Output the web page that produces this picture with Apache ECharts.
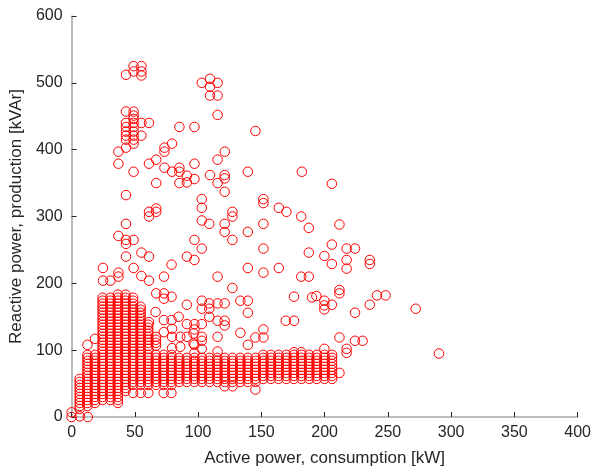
<!DOCTYPE html>
<html><head><meta charset="utf-8">
<script src="https://cdn.jsdelivr.net/npm/echarts@6/dist/echarts.min.js"></script>
<style>html,body{margin:0;padding:0;background:#fff}#c{width:594px;height:472px}</style>
</head><body><div id="c"></div>
<script>
// quantized row levels (kVAr) observed in the dense blocks
const lowRows = [12,16.5,21,25.5,30,34.5,39,43.5];
const bandRows = [48,52.5,57,61.5,66,70.5,75,79.5,84,88.5,93];
const upperRows = [97.5,102,106.5,111,115.5,120,124.5,129,133.5,138,142.5,147,151.5,156,160.5,165,169.5,174,178.5,183,187.5,192,196.5];
// column positions (kW) of the dense grid
const colX = [6.4,12.5,18.5,24.5,30.6,36.6,42.6,48.6,54.6,60.6,66.7,72.8,78.9,85,91.1,97.1,103,109,115.2,121.1,127.2,133.3,139.3,145.4,151.5,157.5,163.6,169.7,175.7,181.7,187.8,193.8,199.9,205.9];
const midBand = bandRows.slice(1,10);
const rightBand = bandRows.slice(2);
const colRows = [
  lowRows.concat(bandRows.slice(0,3)),
  lowRows.slice(1).concat(bandRows),
  lowRows.slice(2).concat(bandRows),
  lowRows.slice(3).concat(bandRows, upperRows.slice(0,19)),
  lowRows.slice(3).concat(bandRows, upperRows.slice(0,19)),
  lowRows.slice(2).concat(bandRows, upperRows.slice(0,20)),
  lowRows.slice(6).concat(bandRows, upperRows.slice(0,20)),
  bandRows.concat(upperRows.slice(0,19)),
  bandRows.concat(upperRows.slice(0,16)),
  bandRows.concat(upperRows.slice(1,10)),
  bandRows.concat(upperRows.slice(2,6)),
  bandRows, bandRows,
  midBand, midBand, midBand, midBand, midBand, midBand, midBand, midBand, midBand, midBand, midBand,
  rightBand, rightBand, rightBand, rightBand, rightBand, rightBand, rightBand, rightBand, rightBand, rightBand
];
// individual scattered points
const ptX = [43,49,55.2,49,55.2,55.2,
  43,49,49,49,43,43,43,43,43,43,49,49,49,49,49,49,55.2,61.2,55.2,37,37,43,
  85.2,97.1,79.4,73.4,73.4,66.9,61.2,73.4,79.4,85.2,85.2,91.1,97.1,97.1,85.2,91.1,66.9,49,
  102.9,109.4,115.4,109.4,109.4,115.4,115.4,145.3,121.1,115.4,109.4,121,121,115.4,121,139.3,182,102.9,151.6,
  102.9,151.6,163.8,169.8,181.5,187.5,127.1,127.1,102.9,108.8,121,121,139.3,151.6,97.1,102.9,127.1,91.1,97.1,151.6,187.5,139.3,151.6,163.8,115.4,181.5,187.5,127.1,175.8,102.9,133.4,139.3,91.1,108.8,115.4,121,190,
  205.7,211.7,205.7,199.8,217.4,224,205.7,217.4,217.4,235.7,235.7,211.7,211.7,193.5,241.4,248.2,
  199.8,199.8,199.8,205.7,235.7,224,272,211.7,224,230,217.4,217.4,290.4,199.8,211.7,
  102.9,108.8,108.8,115.4,121,121,139.3,169.3,175.8,91.1,97.1,102.9,97.1,133.4,151.6,151.6,145.3,91.1,102.9,102.9,115.4,139.3,97.1,102.9,97.1,115.4,121,127.2,145.3,175.8,181.5,
  61.2,66.9,61.2,66.9,43,37,43,49,43,55.2,61.2,43,24.8,49,79,73,24.8,30.7,37,37,55.2,61.2,66.9,73,73,79,12.5,18.5,
  66.4,61.2,72.9,79,84.6,72.9,79.4,79.4,85.9,96.4,85.9,96.4,79.4,
  48.6,54.6,60.6,72.8,78.9,0,0,6.5,12.8];
const ptY = [512,525,525,517,517,511,
  457,457,451,446,440,434,427,421,415,403,440,434,427,421,415,409,440,440,421,397,379,332,
  434,434,409,403,397,385,379,373,367,373,367,361,379,356,350,351,350,367,
  500,506,500,494,481,481,452,428,397,385,362,362,357,350,337,367,367,326,326,
  313,320,313,307,300,283,307,300,294,289,289,277,277,289,265,252,265,168,235,252,246,223,216,223,210,210,210,193,180,174,174,174,240,170,170,170,179,
  349,288,258,241,252,252,229,235,222,235,229,190,185,181,182,182,
  174,167,161,168,168,156,162,119,114,114,102,96,95,102,66,
  162,162,150,144,144,137,156,144,144,139,139,139,131,126,131,119,119,120,120,114,120,108,108,102,96,98,46,46,41,97,97,
  307,312,300,307,289,271,265,265,259,246,240,240,223,223,228,210,204,204,216,210,211,204,185,185,177,180,108,117,
  157,142,145,145,150,127,132,120,120,125,105,110,103,
  36,36,36,36,36,7,0,1,0];

const data = [];
colX.forEach((x, i) => colRows[i].forEach(y => data.push([x, y])));
ptX.forEach((x, i) => data.push([x, ptY[i]]));

const xTicks = [0,50,100,150,200,250,300,350,400];
const yTicks = [0,100,200,300,400,500,600];
const font = "'Liberation Sans', Arial, sans-serif";
const txt = '#262626';

const chart = echarts.init(document.getElementById('c'), null, {renderer: 'canvas'});
chart.setOption({
  animation: false,
  backgroundColor: '#ffffff',
  grid: {left: 66, top: 16, width: 514, height: 405, containLabel: false},
  xAxis: {
    type: 'value', min: xTicks[0], max: xTicks[xTicks.length-1], interval: 50,
    name: 'Active power, consumption [kW]', nameLocation: 'middle', nameGap: 33,
    nameTextStyle: {fontFamily: font, fontSize: 17, color: txt},
    axisLine: {show: true, lineStyle: {color: '#a6a6a6', width: 1.5}},
    axisTick: {show: true, inside: true, length: 5, lineStyle: {color: '#262626', width: 1}},
    axisLabel: {fontFamily: font, fontSize: 16, color: txt, margin: 8},
    splitLine: {show: false}
  },
  yAxis: {
    type: 'value', min: yTicks[0], max: yTicks[yTicks.length-1], interval: 100,
    name: 'Reactive power, production [kVAr]', nameLocation: 'middle', nameGap: 39,
    nameTextStyle: {fontFamily: font, fontSize: 17, color: txt},
    axisLine: {show: true, lineStyle: {color: '#a6a6a6', width: 1.5}},
    axisTick: {show: true, inside: true, length: 5, lineStyle: {color: '#262626', width: 1}},
    axisLabel: {fontFamily: font, fontSize: 16, color: txt, margin: 9},
    splitLine: {show: false}
  },
  series: [{
    type: 'scatter',
    data: data,
    symbol: 'circle',
    symbolSize: 9.5,
    large: false,
    itemStyle: {color: 'rgba(0,0,0,0)', borderColor: '#ff0000', borderWidth: 1, opacity: 1}
  }]
});
</script></body></html>
